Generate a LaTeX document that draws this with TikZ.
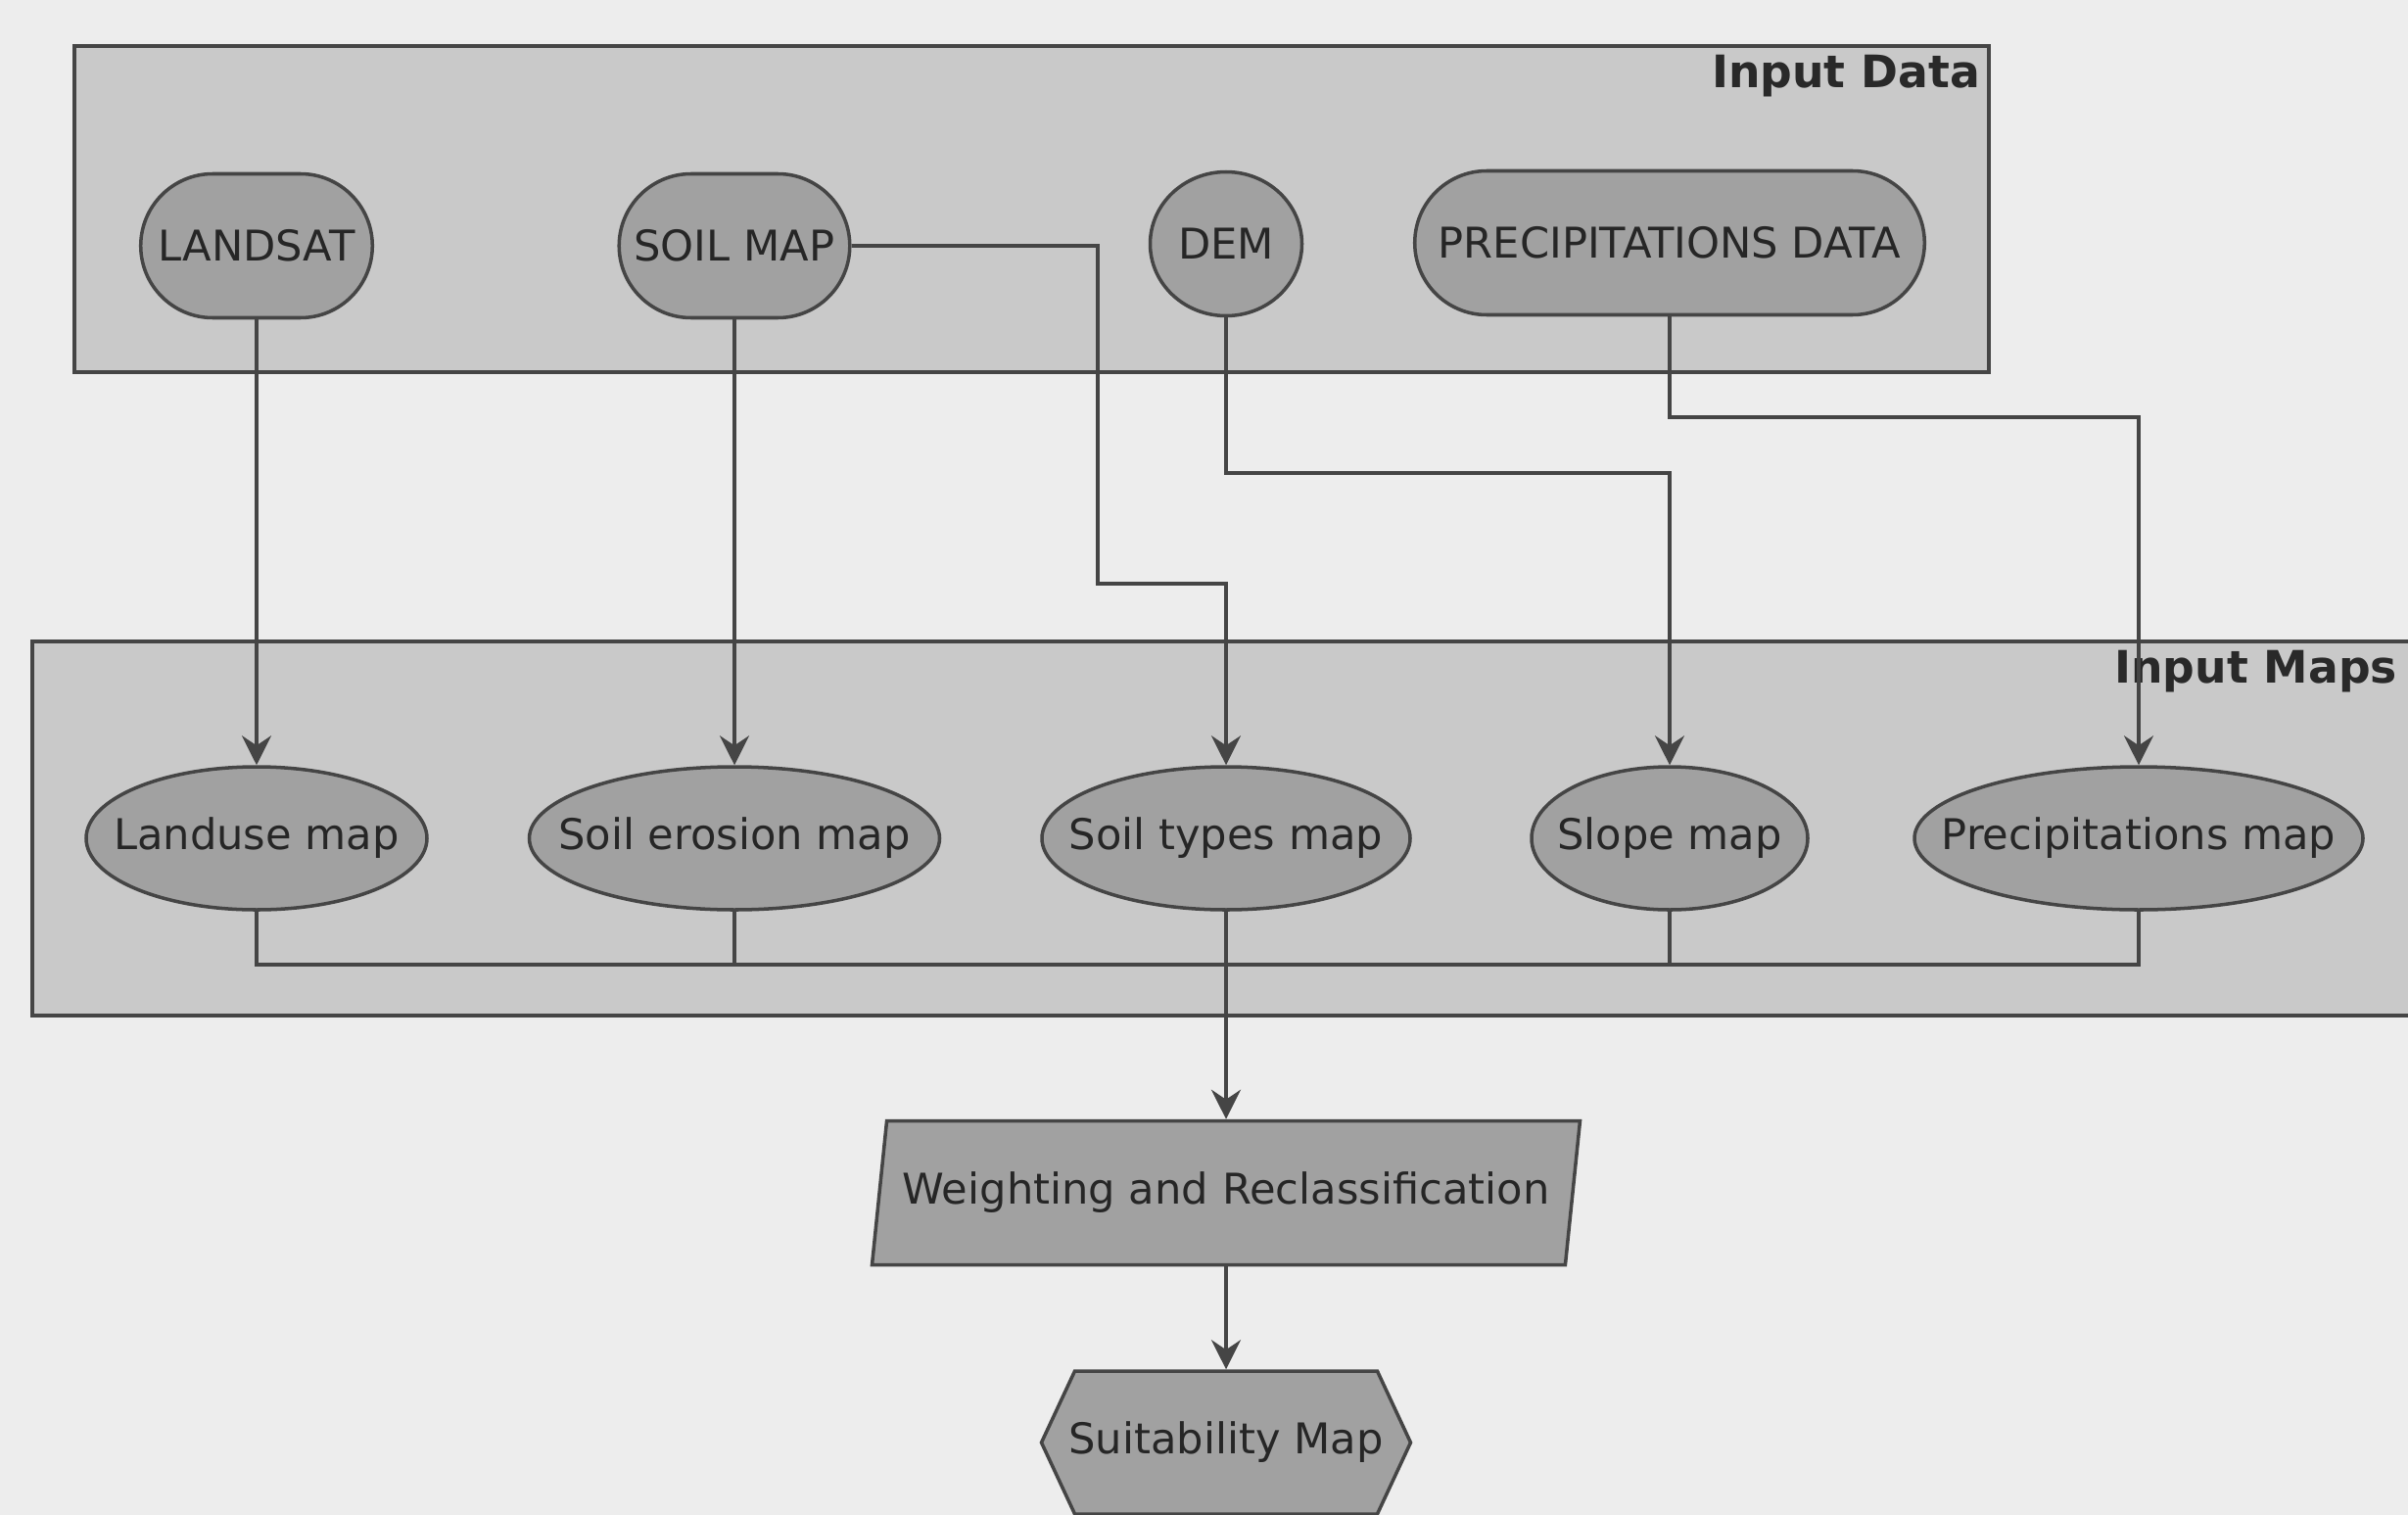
\documentclass[tikz,border=0pt]{standalone}
\usepackage{fontspec}
\setmainfont{DejaVu Sans}
\usetikzlibrary{shapes.geometric,shapes.misc,shapes.symbols,arrows.meta}
\definecolor{paper}{gray}{0.93}
\definecolor{groupfill}{gray}{0.79}
\definecolor{nodefill}{gray}{0.63}
\definecolor{ink}{gray}{0.27}
\newcommand{\tightlabel}[1]{\makebox[0pt]{#1}}

\begin{document}
\begin{tikzpicture}[>={Stealth[length=3mm,width=3mm,inset=1mm]},
    group/.style={draw=ink, fill=groupfill, line width=1.3pt},
    grouplabel/.style={anchor=north east, inner sep=3pt, text=ink!60!black,
        font=\bfseries\fontsize{13}{15}\selectfont},
    base/.style={draw=ink, fill=nodefill, line width=1pt, text=ink!55!black,
        font=\fontsize{12.3}{14}\selectfont},
    source/.style={base, rounded rectangle, minimum height=1.47cm},
    layer/.style={base, ellipse, minimum height=1.46cm},
    link/.style={draw=ink, line width=1pt},
  ]
    \useasboundingbox (0,0) rectangle (24.59,-15.47);
    \fill[paper] (0,0) rectangle (24.59,-15.47);

    % Groups
    \node[group, minimum width=19.55cm, minimum height=3.33cm] (datagroup) at (10.535,-2.135) {};
    \node[grouplabel] (datalabel) at (datagroup.north east) {Input Data};
    \node[group, minimum width=24.42cm, minimum height=3.82cm] (mapgroup) at (12.54,-8.46) {};
    \node[grouplabel, xshift=-0.18cm] (maplabel) at (mapgroup.north east) {Input Maps};

    % Input data
    \node[source, minimum width=2.6cm] (landsat) at (2.62,-2.51) {\tightlabel{LANDSAT}};
    \node[source, minimum width=2.59cm] (soilmap) at (7.50,-2.51) {\tightlabel{SOIL MAP}};
    \node[layer, minimum width=1.55cm, minimum height=1.47cm] (dem) at (12.52,-2.49) {\tightlabel{DEM}};
    \node[source, minimum width=5.44cm] (precip) at (17.05,-2.48) {\tightlabel{PRECIPITATIONS DATA}};

    % Input maps
    \node[layer, minimum width=3.48cm] (landuse) at (2.62,-8.56) {\tightlabel{Landuse map}};
    \node[layer, minimum width=4.19cm] (erosion) at (7.50,-8.56) {\tightlabel{Soil erosion map}};
    \node[layer, minimum width=3.76cm] (soiltypes) at (12.52,-8.56) {\tightlabel{Soil types map}};
    \node[layer, minimum width=2.82cm] (slope) at (17.05,-8.56) {\tightlabel{Slope map}};
    \node[layer, minimum width=4.58cm] (rainmap) at (21.84,-8.56) {\tightlabel{Precipitations map}};

    % Processing
    \node[base, trapezium, trapezium left angle=77, trapezium right angle=103,
        trapezium stretches body=true, minimum width=7.23cm, minimum height=1.47cm]
        (weight) at (12.52,-12.18) {\tightlabel{Weighting and Reclassification}};
    \node[base, signal, signal to=west and east, signal pointer angle=130,
        minimum width=3.77cm, minimum height=1.46cm]
        (suit) at (12.52,-14.73) {\tightlabel{Suitability Map}};

    % Links from the data to the maps
    \coordinate (soilturn) at (11.21,-5.96);
    \coordinate (demturn) at (12.52,-4.83);
    \coordinate (rainturn) at (17.05,-4.26);
    \coordinate (bus) at (0,-9.85);
    \draw[link,->] (landsat) -- (landuse);
    \draw[link,->] (soilmap) -- (erosion);
    \draw[link,->] (soilmap.east) -| (soilturn) -| (soiltypes.north);
    \draw[link,->] (dem) -- (demturn) -| (slope.north);
    \draw[link,->] (precip) -- (rainturn) -| (rainmap.north);

    % Maps joined together
    \draw[link] (landuse.south) |- (rainmap.south |- bus) -- (rainmap.south);
    \foreach \m in {erosion, slope}
        \draw[link] (\m.south) -- (\m.south |- bus);
    \draw[link,->] (soiltypes) -- (weight);
    \draw[link,->] (weight) -- (suit);
\end{tikzpicture}
\end{document}
